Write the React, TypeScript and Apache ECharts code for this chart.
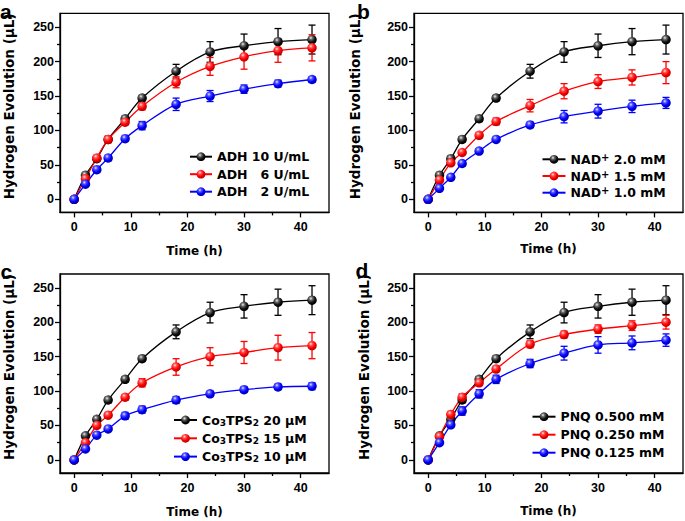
import React, { useEffect, useRef } from 'react';
import * as echarts from 'echarts';

// ---------------- data ----------------
const times = [0, 2, 4, 6, 9, 12, 18, 24, 30, 36, 42];
const xTickValues = [0, 10, 20, 30, 40];
const xMinorValues = [5, 15, 25, 35];
const yTickValues = [0, 50, 100, 150, 200, 250];
const yMinorValues = [25, 75, 125, 175, 225];

// reference condition (black, identical in every panel)
const refValues = [0, 35, 59, 87, 117, 147, 186, 214, 223, 229, 232];
const refErrors = [0, 3, 4, 4, 4, 4, 10, 15, 17, 19, 21];

// panel a: ADH
const adh6Values = [0, 30, 60, 87, 112, 135, 170, 193, 207, 216, 220];
const adh6Errors = [0, 3, 4, 5, 4, 5, 8, 13, 18, 17, 19];
const adh2Values = [0, 22, 43, 60, 88, 107, 138, 150, 160, 168, 174];
const adh2Errors = [0, 3, 4, 4, 4, 6, 9, 8, 6, 5, 4];

// panel b: NAD+
const nad15Values = [0, 28, 53, 68, 93, 113, 136, 157, 171, 177, 184];
const nad15Errors = [0, 3, 3, 3, 4, 5, 9, 11, 10, 11, 16];
const nad10Values = [0, 16, 32, 52, 70, 87, 108, 120, 128, 135, 140];
const nad10Errors = [0, 3, 3, 3, 3, 3, 4, 9, 10, 9, 8];

// panel c: Co3TPS2
const co15Values = [0, 25, 50, 65, 91, 112, 135, 150, 156, 163, 166];
const co15Errors = [0, 3, 4, 3, 4, 6, 12, 13, 16, 18, 19];
const co10Values = [0, 16, 36, 45, 64, 73, 87, 96, 102, 106, 107];
const co10Errors = [0, 3, 3, 3, 5, 5, 5, 4, 4, 4, 5];

// panel d: PNQ
const pnq250Values = [0, 34, 66, 91, 112, 132, 168, 182, 190, 195, 200];
const pnq250Errors = [0, 3, 4, 5, 4, 4, 5, 5, 6, 7, 10];
const pnq125Values = [0, 25, 51, 71, 96, 117, 140, 155, 167, 170, 174];
const pnq125Errors = [0, 3, 3, 6, 6, 6, 6, 10, 12, 10, 9];

const NB = '\u00a0';
const namesA = ['ADH 10 U/mL', `ADH${NB}${NB}${NB}6 U/mL`, `ADH${NB}${NB}${NB}2 U/mL`];
const namesB = ['NAD+ 2.0 mM', 'NAD+ 1.5 mM', 'NAD+ 1.0 mM'];
const namesC = ['Co3TPS2 20 μM', 'Co3TPS2 15 μM', 'Co3TPS2 10 μM'];
const namesD = ['PNQ 0.500 mM', 'PNQ 0.250 mM', 'PNQ 0.125 mM'];
const panelLetters = ['a', 'b', 'c', 'd'];
const xAxisTitle = 'Time (h)';
const yAxisTitle = 'Hydrogen Evolution (μL)';

// ---------------- styling / layout ----------------
const colors = ['#000000', '#ff0000', '#0000ff'];
const sphereStops = [
  ['#f0f0f0', '#6a6a6a', '#141414', '#000000'],
  ['#ffe6e6', '#ff5050', '#ff0000', '#c80000'],
  ['#e6e6ff', '#5050ff', '#0000ff', '#0000c0'],
];
const sphere = (i: number) =>
  new echarts.graphic.RadialGradient(0.38, 0.32, 0.62, [
    { offset: 0, color: sphereStops[i][0] },
    { offset: 0.3, color: sphereStops[i][1] },
    { offset: 0.7, color: sphereStops[i][2] },
    { offset: 1, color: sphereStops[i][3] },
  ]);

const tickFont = 'Liberation Sans, Arial, sans-serif';
const textFont = 'DejaVu Sans, Verdana, sans-serif';

const panels = [
  {
    names: namesA,
    values: [refValues, adh6Values, adh2Values],
    errors: [refErrors, adh6Errors, adh2Errors],
    grid: { left: 60, top: 13.4, width: 269, height: 199 },
    yGap: 44, xGap: 32,
    legend: { left: 189, top: 149.7, itemGap: 3.5, itemWidth: 22 },
    label: { x: 0, y: 18.5 },
    fmt: (n: string) => `{n|${n.replace(/ /g, NB)}}`,
  },
  {
    names: namesB,
    values: [refValues, nad15Values, nad10Values],
    errors: [refErrors, nad15Errors, nad10Errors],
    grid: { left: 414, top: 13.4, width: 269, height: 199 },
    yGap: 51.5, xGap: 29.5,
    legend: { left: 541.5, top: 152.3, itemGap: 2.7, itemWidth: 23 },
    label: { x: 357, y: 18.5 },
    fmt: (n: string) => `{n|NAD}{p|+}{n|${n.slice(4).replace(/ /g, NB)}}`,
  },
  {
    names: namesC,
    values: [refValues, co15Values, co10Values],
    errors: [refErrors, co15Errors, co10Errors],
    grid: { left: 60, top: 274, width: 269, height: 199 },
    yGap: 44, xGap: 31.5,
    legend: { left: 173, top: 413, itemGap: 4.3, itemWidth: 23 },
    label: { x: 0.5, y: 278.5 },
    fmt: (n: string) => `{n|Co}{s|3}{n|TPS}{s|2}{n|${n.slice(7).replace(/ /g, NB)}}`,
  },
  {
    names: namesD,
    values: [refValues, pnq250Values, pnq125Values],
    errors: [refErrors, pnq250Errors, pnq125Errors],
    grid: { left: 414, top: 274, width: 269, height: 199 },
    yGap: 43, xGap: 30.5,
    legend: { left: 531.5, top: 409.7, itemGap: 4, itemWidth: 23 },
    label: { x: 355.5, y: 277.5 },
    fmt: (n: string) => `{n|${n.replace(/ /g, NB)}}`,
  },
];

const AX = '#000';
const AXW = 1.3;

function buildOption() {
  const grid: any[] = [];
  const xAxis: any[] = [];
  const yAxis: any[] = [];
  const legend: any[] = [];
  const series: any[] = [];
  const graphic: any[] = [];

  panels.forEach((p, g) => {
    grid.push({
      ...p.grid,
      show: true,
      borderColor: AX,
      borderWidth: AXW,
      backgroundColor: 'transparent',
      containLabel: false,
    });
    const labelStyle = { fontFamily: tickFont, fontWeight: 'bold', fontSize: 12.5, color: '#000' };
    xAxis.push({
      gridIndex: g, type: 'value', min: -2.5, max: 45, position: 'bottom',
      axisLine: { show: true, onZero: false, lineStyle: { color: AX, width: AXW } },
      axisTick: { show: true, inside: false, length: 5, customValues: xTickValues, lineStyle: { color: AX, width: AXW } },
      axisLabel: { show: true, customValues: xTickValues, margin: 8, ...labelStyle },
      splitLine: { show: false },
      name: xAxisTitle, nameLocation: 'middle', nameGap: p.xGap,
      nameTextStyle: { fontFamily: textFont, fontWeight: 'bold', fontSize: 12, color: '#000', lineHeight: 14 },
    });
    xAxis.push({
      gridIndex: g, type: 'value', min: -2.5, max: 45, position: 'bottom',
      axisLine: { show: false, onZero: false },
      axisTick: { show: true, inside: false, length: 3, customValues: xMinorValues, lineStyle: { color: AX, width: AXW } },
      axisLabel: { show: false },
      splitLine: { show: false },
    });
    yAxis.push({
      gridIndex: g, type: 'value', min: -19, max: 270, position: 'left',
      axisLine: { show: true, onZero: false, lineStyle: { color: AX, width: AXW } },
      axisTick: { show: true, inside: false, length: 5, customValues: yTickValues, lineStyle: { color: AX, width: AXW } },
      axisLabel: { show: true, customValues: yTickValues, margin: 6, ...labelStyle },
      splitLine: { show: false },
      name: yAxisTitle, nameLocation: 'middle', nameGap: p.yGap, nameRotate: 90,
      nameTextStyle: { fontFamily: textFont, fontWeight: 'bold', fontSize: 13.5, color: '#000', lineHeight: 15, padding: [0, 0, 0, 13] },
    });
    yAxis.push({
      gridIndex: g, type: 'value', min: -19, max: 270, position: 'left',
      axisLine: { show: false, onZero: false },
      axisTick: { show: true, inside: false, length: 3, customValues: yMinorValues, lineStyle: { color: AX, width: AXW } },
      axisLabel: { show: false },
      splitLine: { show: false },
    });

    legend.push({
      orient: 'vertical',
      left: p.legend.left,
      top: p.legend.top,
      itemGap: p.legend.itemGap,
      itemWidth: p.legend.itemWidth,
      itemHeight: 11,
      padding: 0,
      selectedMode: false,
      data: p.names,
      formatter: p.fmt,
      textStyle: {
        fontFamily: textFont, fontWeight: 'bold', fontSize: 12.5, color: '#000', lineHeight: 14,
        rich: {
          n: { fontFamily: textFont, fontWeight: 'bold', fontSize: 12.5, color: '#000', lineHeight: 14 },
          s: { fontFamily: textFont, fontWeight: 'bold', fontSize: 9, color: '#000', lineHeight: 9, verticalAlign: 'bottom' },
          p: { fontFamily: textFont, fontWeight: 'bold', fontSize: 10, color: '#000', lineHeight: 10, verticalAlign: 'top' },
        },
      },
    });

    p.names.forEach((name, k) => {
      const vals = p.values[k];
      const errs = p.errors[k];
      const color = colors[k];
      series.push({
        type: 'custom',
        name: `err-${g}-${k}`,
        xAxisIndex: 2 * g,
        yAxisIndex: 2 * g,
        data: times.map((t, i) => [t, vals[i] - errs[i], vals[i] + errs[i]]),
        encode: { x: 0, y: [1, 2] },
        renderItem: (params: any, api: any) => {
          const x = api.value(0);
          const top = api.coord([x, api.value(2)]);
          const bot = api.coord([x, api.value(1)]);
          const w = 3.5;
          const style = { stroke: color, lineWidth: 1.3 };
          return {
            type: 'group',
            children: [
              { type: 'line', shape: { x1: top[0], y1: top[1], x2: bot[0], y2: bot[1] }, style },
              { type: 'line', shape: { x1: top[0] - w, y1: top[1], x2: top[0] + w, y2: top[1] }, style },
              { type: 'line', shape: { x1: bot[0] - w, y1: bot[1], x2: bot[0] + w, y2: bot[1] }, style },
            ],
          };
        },
        silent: true,
      });
      series.push({
        type: 'line',
        name,
        xAxisIndex: 2 * g,
        yAxisIndex: 2 * g,
        data: times.map((t, i) => [t, vals[i]]),
        smooth: 0.35,
        symbol: 'circle',
        symbolSize: 9.5,
        showAllSymbol: true,
        lineStyle: { color, width: 1.3 },
        itemStyle: { color: sphere(k), borderWidth: 0 },
        emphasis: { disabled: true },
        silent: true,
      });
    });

    graphic.push({
      type: 'text',
      x: p.label.x,
      y: p.label.y - 7.5,
      style: {
        text: panelLetters[g],
        fontFamily: tickFont,
        fontWeight: 'bold',
        fontSize: 21,
        fill: '#000',
        verticalAlign: 'middle',
        align: 'left',
      },
    });
  });

  return { animation: false, grid, xAxis, yAxis, legend, series, graphic };
}

export default function App() {
  const ref = useRef<HTMLDivElement>(null);
  useEffect(() => {
    document.body.style.margin = '0';
    const chart = echarts.init(ref.current!, undefined, { renderer: 'svg' });
    chart.setOption(buildOption() as any);
    return () => chart.dispose();
  }, []);
  return <div ref={ref} style={{ width: 685, height: 521, background: '#fff' }} />;
}
